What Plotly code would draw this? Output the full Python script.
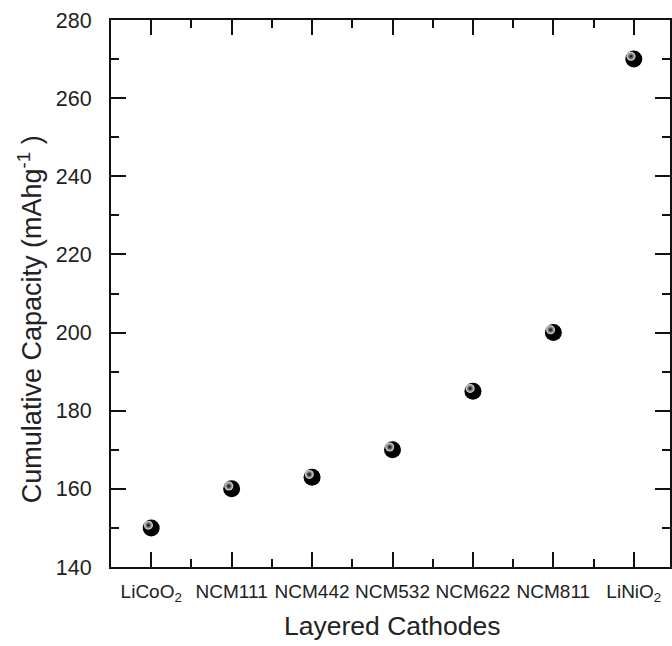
import plotly.graph_objects as go

categories = ["LiCoO<sub>2</sub>", "NCM111", "NCM442", "NCM532", "NCM622", "NCM811", "LiNiO<sub>2</sub>"]
capacity = [150, 160, 163, 170, 185, 200, 270]
y_ticks = [140, 160, 180, 200, 220, 240, 260, 280]

x_idx = list(range(len(categories)))
xr = [-0.5, 6.45]
yr = [140, 280]
dx, dy = 0.035, 0.7  # highlight offset for glossy look

fig = go.Figure()
fig.add_trace(go.Scatter(
    x=x_idx, y=capacity, mode="markers",
    marker=dict(symbol="circle", size=17, color="#000000", line=dict(width=0)),
    showlegend=False, hoverinfo="skip"))
fig.add_trace(go.Scatter(
    x=x_idx, y=capacity, mode="markers", xaxis="x2", yaxis="y2",
    marker=dict(symbol="circle", size=9, color="#e8e8e8",
                gradient=dict(type="radial", color="#000000"),
                line=dict(width=0)),
    showlegend=False, hoverinfo="skip"))

fig.update_layout(
    width=672, height=646,
    margin=dict(l=111, r=0, t=20, b=79),
    paper_bgcolor="white", plot_bgcolor="white",
    font=dict(family="Liberation Sans, Arial, sans-serif", color="#222222"),
    xaxis=dict(
        range=xr, tickmode="array", tickvals=x_idx, ticktext=categories,
        ticks="inside", ticklen=15, tickwidth=2, tickcolor="#111111",
        minor=dict(tickmode="array", tickvals=[i + 0.5 for i in x_idx], ticklen=8, tickwidth=2,
                   tickcolor="#111111", ticks="inside"),
        showline=True, linewidth=2, linecolor="#111111", mirror="ticks",
        showgrid=False, zeroline=False,
        tickfont=dict(size=19, color="#222222"), ticklabelstandoff=6),
    yaxis=dict(
        range=yr, tickmode="array", tickvals=y_ticks,
        ticks="inside", ticklen=15, tickwidth=2, tickcolor="#111111",
        minor=dict(dtick=10, ticklen=8, tickwidth=2, tickcolor="#111111", ticks="inside"),
        showline=True, linewidth=2, linecolor="#111111", mirror="ticks",
        showgrid=False, zeroline=False,
        tickfont=dict(size=21.5, color="#222222"), ticklabelstandoff=13),
    xaxis2=dict(range=[xr[0] + dx, xr[1] + dx], overlaying="x", visible=False),
    yaxis2=dict(range=[yr[0] - dy, yr[1] - dy], overlaying="y", visible=False),
    annotations=[
        dict(text="Layered Cathodes", xref="paper", yref="paper", x=0.5035, y=-0.108,
             xanchor="center", yanchor="middle", showarrow=False,
             font=dict(size=26.5, color="#222222")),
        dict(text="Cumulative Capacity (mAhg<sup>-1</sup> )", xref="paper", yref="paper",
             x=-0.145, y=0.453, xanchor="center", yanchor="middle", textangle=-90,
             showarrow=False, font=dict(size=27, color="#222222")),
    ],
)

fig.write_html("out.html")
